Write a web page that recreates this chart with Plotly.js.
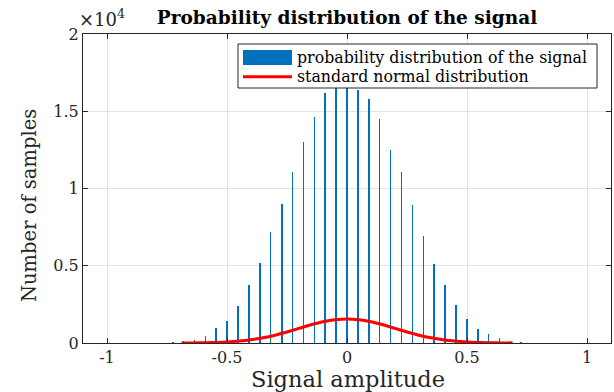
<!DOCTYPE html>
<html>
<head>
<meta charset="utf-8">
<script src="https://cdn.plot.ly/plotly-3.0.1.min.js"></script>
<style>html,body{margin:0;padding:0;background:#fff;}#chart{width:614px;height:392px;}</style>
</head>
<body>
<div id="chart"></div>
<script>
// Histogram bins (signal amplitude) and counts
const binCenters = [-0.726,-0.681,-0.636,-0.590,-0.545,-0.499,-0.454,-0.409,-0.363,-0.318,-0.272,-0.227,-0.182,-0.136,-0.091,-0.045,0,0.045,0.091,0.136,0.182,0.227,0.272,0.318,0.363,0.409,0.454,0.499,0.545,0.590,0.636,0.681,0.726,0.772];
const binCounts = [80,150,210,470,990,1420,2400,3730,5190,7190,9020,11080,13000,14600,16200,16800,16900,16400,15800,14500,12500,11050,8940,6950,5130,3760,2480,1560,930,600,330,150,80,30];
// Standard normal curve
const normX = [-0.69,-0.65,-0.6,-0.55,-0.5,-0.45,-0.4,-0.35,-0.3,-0.25,-0.2,-0.15,-0.1,-0.05,0,0.05,0.1,0.15,0.2,0.25,0.3,0.35,0.4,0.45,0.5,0.55,0.6,0.65,0.69];
const normY = [4,8,17,36,69,124,211,337,506,714,946,1177,1377,1512,1560,1512,1377,1177,946,714,506,337,211,124,69,36,17,8,4];
const xTicks = [-1,-0.5,0,0.5,1];
const xTickText = ['-1','-0.5','0','0.5','1'];
const yTicks = [0,5000,10000,15000,20000];
const yTickText = ['0','0.5','1','1.5','2'];
const seriesNames = ['probability distribution of the signal','standard normal distribution'];

const serif = 'DejaVu Serif, serif';
const dark = '#262626';

const traces = [
  {type:'bar', x:binCenters, y:binCounts, width:0.0065, marker:{color:'#0072BD', line:{width:0}}, name:seriesNames[0], showlegend:false},
  {type:'scatter', mode:'lines', x:normX, y:normY, line:{color:'#FF0000', width:3, shape:'spline'}, name:seriesNames[1], showlegend:false}
];

// plot area in px: x 83..611, y 34..343
function px2x(p){return (p-83)/528;}
function px2y(p){return (343-p)/309;}

const layout = {
  width:614, height:392,
  margin:{l:83, r:3, t:34, b:49},
  paper_bgcolor:'#fff', plot_bgcolor:'#fff',
  bargap:0,
  showlegend:false,
  title:{text:'<b>Probability distribution of the signal</b>', font:{family:serif, size:18.5, color:'#000'}, x:0.5, xref:'paper', y:1-18/392, yref:'container', yanchor:'middle'},
  xaxis:{range:[-1.1,1.1], tickvals:xTicks, ticktext:xTickText, ticks:'inside', ticklen:5, tickcolor:dark,
    showline:true, linecolor:dark, linewidth:1, mirror:'ticks', showgrid:true, gridcolor:'#e3e3e3', zeroline:false,
    tickfont:{family:serif, size:16, color:dark}},
  yaxis:{range:[0,20000], tickvals:yTicks, ticktext:yTickText, ticks:'inside', ticklen:5, tickcolor:dark,
    showline:true, linecolor:dark, linewidth:1, mirror:'ticks', showgrid:true, gridcolor:'#e3e3e3', zeroline:false,
    tickfont:{family:serif, size:16, color:dark}},
  shapes:[
    {type:'rect', xref:'paper', yref:'paper', x0:px2x(238), x1:px2x(597), y0:px2y(88), y1:px2y(44), fillcolor:'#fff', line:{color:dark, width:1}, layer:'above'},
    {type:'rect', xref:'paper', yref:'paper', x0:px2x(243), x1:px2x(292), y0:px2y(65), y1:px2y(50), fillcolor:'#0072BD', line:{width:0}, layer:'above'},
    {type:'line', xref:'paper', yref:'paper', x0:px2x(243), x1:px2x(292), y0:px2y(76.7), y1:px2y(76.7), line:{color:'#FF0000', width:3}, layer:'above'}
  ],
  annotations:[
    {xref:'paper', yref:'paper', x:px2x(295), y:px2y(57.5), xanchor:'left', yanchor:'middle', showarrow:false, text:seriesNames[0], font:{family:serif, size:15.8, color:'#000'}},
    {xref:'paper', yref:'paper', x:px2x(295), y:px2y(76.7), xanchor:'left', yanchor:'middle', showarrow:false, text:seriesNames[1], font:{family:serif, size:15.8, color:'#000'}},
    {xref:'paper', yref:'paper', x:px2x(77), y:px2y(18), xanchor:'left', yanchor:'middle', showarrow:false, text:'×10<sup>4</sup>', font:{family:serif, size:18, color:dark}},
    {xref:'paper', yref:'paper', x:px2x(29), y:px2y(206), xanchor:'center', yanchor:'middle', textangle:-90, showarrow:false, text:'Number of samples', font:{family:serif, size:19.5, color:dark}},
    {xref:'paper', yref:'paper', x:px2x(348), y:px2y(379), xanchor:'center', yanchor:'middle', showarrow:false, text:'Signal amplitude', font:{family:serif, size:22.5, color:dark}}
  ]
};

Plotly.newPlot('chart', traces, layout, {displayModeBar:false, staticPlot:true});
</script>
</body>
</html>
